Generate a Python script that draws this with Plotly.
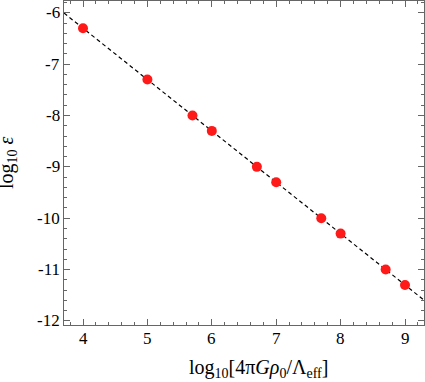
import numpy as np
import plotly.graph_objects as go

# data
log_x = [4, 5, 5.7, 6, 6.7, 7, 7.7, 8, 8.7, 9]
log_eps = [-6.3, -7.3, -8.0, -8.3, -9.0, -9.3, -10.0, -10.3, -11.0, -11.3]

x_ticks = [4, 5, 6, 7, 8, 9]
y_ticks = [-12, -11, -10, -9, -8, -7, -6]

x_range = [3.705, 9.295]
y_range = [-12.08, -5.77]

# linear fit through the points, drawn across the full axis range
slope, intercept = np.polyfit(log_x, log_eps, 1)
fit_x = np.array(x_range)
fit_y = slope * fit_x + intercept

fig = go.Figure()
fig.add_trace(go.Scatter(
    x=fit_x, y=fit_y, mode='lines',
    line=dict(color='black', width=1.2, dash='4px,3px'),
    hoverinfo='skip'
))
fig.add_trace(go.Scatter(
    x=log_x, y=log_eps, mode='markers',
    marker=dict(color='#ff1a1a', size=10, line=dict(width=0)),
    hovertemplate='%{x}, %{y}<extra></extra>'
))

serif = 'Liberation Serif, Times New Roman, serif'
tick_font = dict(family=serif, size=17, color='black')

for ax, vals, rng in ((fig.update_xaxes, x_ticks, x_range),
                      (fig.update_yaxes, y_ticks, y_range)):
    ax(
        range=rng, tickmode='array', tickvals=vals, showticklabels=False,
        showgrid=False, zeroline=False, showline=True, linecolor='#666666',
        linewidth=1, mirror='allticks', ticks='inside', ticklen=6,
        tickcolor='#666666',
        minor=dict(ticks='inside', ticklen=3, tickcolor='#666666', dtick=0.2),
        automargin=False,
    )

# tick labels as serif text (hyphen minus like the reference)
for v in x_ticks:
    fig.add_annotation(text=str(v), xref='x', yref='paper', x=v, y=0,
                       xanchor='center', yanchor='top', yshift=-2,
                       showarrow=False, font=tick_font)
for v in y_ticks:
    fig.add_annotation(text=str(v), xref='paper', yref='y', x=0, y=v,
                       xanchor='right', yanchor='middle', xshift=-2,
                       showarrow=False, font=tick_font)

fig.add_annotation(
    text='log<sub>10</sub>[4π<i>G</i><i>ρ</i><sub>0</sub>/Λ<sub>eff</sub>]',
    xref='paper', yref='paper', x=0.54, y=-0.09, xanchor='center', yanchor='top',
    showarrow=False, font=dict(family=serif, size=20, color='black')
)
fig.add_annotation(
    text='log<sub>10</sub> <i>ε</i>',
    xref='paper', yref='paper', x=-0.118, y=0.5, xanchor='right', yanchor='middle',
    textangle=-90, showarrow=False, font=dict(family=serif, size=20, color='black')
)

fig.update_layout(
    width=425, height=382,
    margin=dict(l=64, r=1, t=1, b=57),
    showlegend=False,
    font=dict(family=serif, color='black'),
    plot_bgcolor='white', paper_bgcolor='white',
)

fig.write_html('out.html', config={'displayModeBar': False},
               post_script="document.body.style.margin='0';")
